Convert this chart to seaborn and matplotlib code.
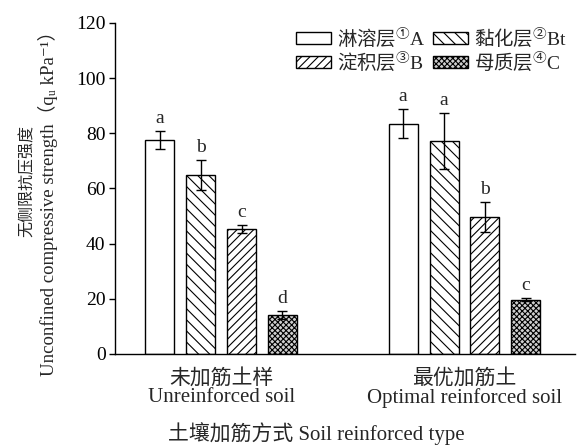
import matplotlib
matplotlib.use("Agg")
import matplotlib.pyplot as plt
import seaborn as sns
import pandas as pd
from matplotlib.patches import Patch

# Data
groups = ["未加筋土样\nUnreinforced soil", "最优加筋土\nOptimal reinforced soil"]
layers = [r"$\mathrm{淋溶层}^{\mathrm{①}}A$", r"$\mathrm{黏化层}^{\mathrm{②}}Bt$",
          r"$\mathrm{淀积层}^{\mathrm{③}}B$", r"$\mathrm{母质层}^{\mathrm{④}}C$"]
means = {
    layers[0]: [77.5, 83.5],
    layers[1]: [64.8, 77.2],
    layers[2]: [45.2, 49.6],
    layers[3]: [14.0, 19.6],
}
errors = {
    layers[0]: [3.3, 5.2],
    layers[1]: [5.5, 10.0],
    layers[2]: [1.5, 5.5],
    layers[3]: [1.5, 0.5],
}
letters = {
    layers[0]: ["a", "a"],
    layers[1]: ["b", "a"],
    layers[2]: ["c", "b"],
    layers[3]: ["d", "c"],
}
yticks = [0, 20, 40, 60, 80, 100, 120]

sns.set_theme(style="ticks")
FAMILY = ["Liberation Serif", "Noto Sans CJK SC", "DejaVu Serif"]
plt.rcParams["font.family"] = FAMILY
plt.rcParams["mathtext.fontset"] = "custom"
plt.rcParams["mathtext.rm"] = "Noto Sans CJK SC"
plt.rcParams["mathtext.it"] = "Liberation Serif"
plt.rcParams["hatch.linewidth"] = 0.8

rows = []
for lay in layers:
    for g, v in zip(groups, means[lay]):
        rows.append({"group": g, "layer": lay, "value": v})
df = pd.DataFrame(rows)

fig = plt.figure(figsize=(5.82, 4.48), dpi=100)
ax = fig.add_axes([0.198, 0.21, 0.79, 0.739])

sns.barplot(data=df, x="group", y="value", hue="layer", order=groups,
            hue_order=layers, errorbar=None, width=0.672, gap=0.29,
            palette=["white"] * 4, edgecolor="black", linewidth=1.0,
            legend=False, ax=ax)

hatches = ["", "\\\\\\", "////", "xxxxxx"]
faces = ["white", "white", "white", "#cfcfcf"]
for lay, cont, h, fc in zip(layers, ax.containers, hatches, faces):
    for i, bar in enumerate(cont):
        bar.set_hatch(h)
        bar.set_facecolor(fc)
        bar.set_edgecolor("black")
        xc = bar.get_x() + bar.get_width() / 2
        v = means[lay][i]
        e = errors[lay][i]
        ax.errorbar(xc, v, yerr=e, fmt="none", ecolor="black",
                    elinewidth=1.0, capsize=3.5, capthick=1.0)
        ax.annotate(letters[lay][i], (xc, v + e), xytext=(0, 3),
                    textcoords="offset points", ha="center", va="bottom",
                    fontsize=14)

ax.set_ylim(0, 120)
ax.set_yticks(yticks)
ax.set_xlim(-0.435, 1.454)
ax.tick_params(axis="y", direction="out", length=4, width=1, labelsize=14,
               colors="black", pad=3)
ax.tick_params(axis="x", length=0, labelsize=15, pad=11)
for lbl in ax.get_xticklabels():
    lbl.set_linespacing(0.95)
for s in ["top", "right"]:
    ax.spines[s].set_visible(False)
for s in ["left", "bottom"]:
    ax.spines[s].set_color("black")
    ax.spines[s].set_linewidth(1.0)
ax.set_xlabel("")
ax.set_ylabel("")

# Axis titles
fig.text(0.543, 0.032, "土壤加筋方式 Soil reinforced type", fontsize=15,
         ha="center", va="center")
fig.text(0.048, 0.596, "无侧限抗压强度", fontsize=11.5, rotation=90,
         ha="center", va="center")
fig.text(0.0825, 0.556, "Unconfined compressive strength（qᵤ kPa⁻¹）",
         fontsize=13.5, rotation=90, ha="center", va="center")

handles = [Patch(facecolor=fc, edgecolor="black", hatch=h, label=lay)
           for lay, h, fc in zip(layers, hatches, faces)]
order = [0, 2, 1, 3]
ax.legend(handles=[handles[k] for k in order], ncol=2, loc="upper right",
          bbox_to_anchor=(1.0, 1.015), frameon=False, fontsize=14,
          handlelength=1.8, handleheight=0.55, handletextpad=0.3,
          columnspacing=0.4, labelspacing=0.02, borderaxespad=0.0)

fig.savefig("out.png", dpi=100)
